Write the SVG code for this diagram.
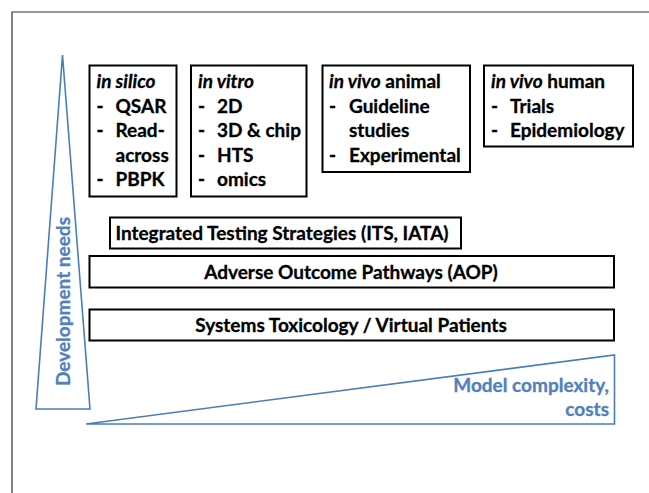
<svg xmlns="http://www.w3.org/2000/svg" width="649" height="493" viewBox="0 0 649 493">
<style>
.t{font-family:Lato,"Liberation Sans",sans-serif;font-weight:bold;font-size:19px;fill:#000;stroke:#000;stroke-width:0.3}
.i{font-style:italic}
.b{fill:#fff;stroke:#000;stroke-width:2}
.bl{fill:#fff;stroke:#4a7ebb;stroke-width:1.6}
.bt{font-family:Lato,"Liberation Sans",sans-serif;font-weight:bold;font-size:19px;fill:#4f81bd;stroke:#4f81bd;stroke-width:0.3}
</style>
<rect width="649" height="493" fill="#fff"/>
<g id="frame"><path d="M12,493 V12 H649" fill="none" stroke="#333" stroke-width="1.2"/></g>
<g id="dev-needs">
<polygon class="bl" points="62.5,55 36,409 90,409"/>
<text class="bt" transform="translate(69.5,301.5) rotate(-90)" text-anchor="middle">Development needs</text>
</g>
<g id="complexity">
<polygon class="bl" points="86,424 614.5,424 614.5,355"/>
<text class="bt" x="609" y="392" text-anchor="end">Model complexity,</text>
<text class="bt" x="609" y="416" text-anchor="end">costs</text>
</g>
<g id="in-silico">
<rect class="b" x="89.5" y="65.5" width="87" height="131"/>
<text class="t" x="96.5" y="87.5"><tspan class="i">in silico</tspan></text>
<text class="t" x="96.5" y="112.5">-</text><text class="t" x="115.5" y="112.5">QSAR</text>
<text class="t" x="96.5" y="137">-</text><text class="t" x="115.5" y="137">Read-</text>
<text class="t" x="115.5" y="161.5">across</text>
<text class="t" x="96.5" y="186">-</text><text class="t" x="115.5" y="186">PBPK</text>
</g>
<g id="in-vitro">
<rect class="b" x="191" y="65.5" width="115.5" height="131"/>
<text class="t" x="198" y="87.5"><tspan class="i">in vitro</tspan></text>
<text class="t" x="198" y="112.5">-</text><text class="t" x="217" y="112.5">2D</text>
<text class="t" x="198" y="137">-</text><text class="t" x="217" y="137">3D &amp; chip</text>
<text class="t" x="198" y="161.5">-</text><text class="t" x="217" y="161.5">HTS</text>
<text class="t" x="198" y="186">-</text><text class="t" x="217" y="186">omics</text>
</g>
<g id="in-vivo-animal">
<rect class="b" x="322.5" y="65.5" width="147.5" height="106.5"/>
<text class="t" x="329" y="87.5"><tspan class="i">in vivo</tspan> animal</text>
<text class="t" x="329" y="112.5">-</text><text class="t" x="349" y="112.5">Guideline</text>
<text class="t" x="349" y="137">studies</text>
<text class="t" x="329" y="161.5">-</text><text class="t" x="349" y="161.5">Experimental</text>
</g>
<g id="in-vivo-human">
<rect class="b" x="484" y="65.5" width="149" height="81"/>
<text class="t" x="491" y="87.5"><tspan class="i">in vivo</tspan> human</text>
<text class="t" x="491" y="112.5">-</text><text class="t" x="510" y="112.5">Trials</text>
<text class="t" x="491" y="137">-</text><text class="t" x="510" y="137">Epidemiology</text>
</g>
<g id="its">
<rect class="b" x="110" y="217.5" width="351" height="31"/>
<text class="t" x="282" y="240" text-anchor="middle">Integrated Testing Strategies (ITS, IATA)</text>
</g>
<g id="aop">
<rect class="b" x="89.5" y="256" width="524.5" height="31.5"/>
<text class="t" x="351" y="278.5" text-anchor="middle">Adverse Outcome Pathways (AOP)</text>
</g>
<g id="systox">
<rect class="b" x="89.5" y="309.5" width="524.5" height="31"/>
<text class="t" x="351" y="331.5" text-anchor="middle">Systems Toxicology / Virtual Patients</text>
</g>
<g id="connectors"></g>
</svg>
